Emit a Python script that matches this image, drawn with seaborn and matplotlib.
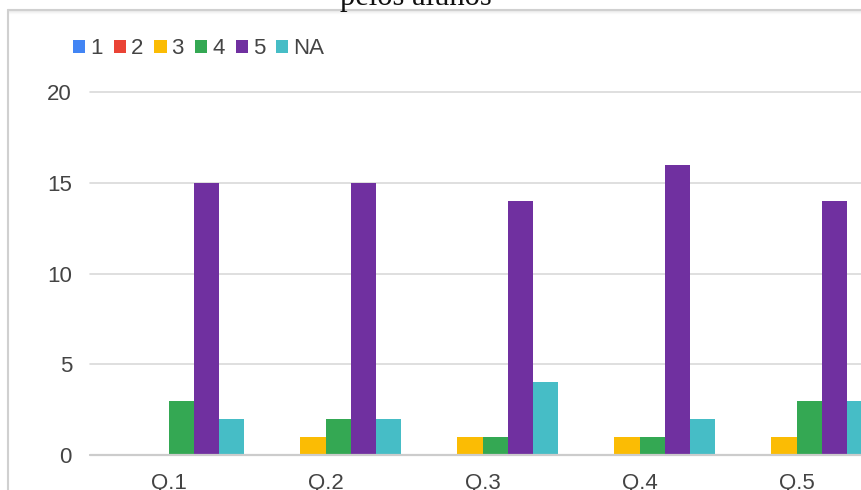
import matplotlib
matplotlib.use("Agg")
import matplotlib.pyplot as plt
from matplotlib.lines import Line2D
import seaborn as sns
import pandas as pd

# ---- data ----
questions = ["Q.1", "Q.2", "Q.3", "Q.4", "Q.5"]
series = ["1", "2", "3", "4", "5", "NA"]
s1 = [0, 0, 0, 0, 0]
s2 = [0, 0, 0, 0, 0]
s3 = [0, 1, 1, 1, 1]
s4 = [3, 2, 1, 1, 3]
s5 = [15, 15, 14, 16, 14]
sNA = [2, 2, 4, 2, 3]
yticks = [0, 5, 10, 15, 20]
title_text = "pelos alunos"

colors = ["#4285F4", "#EA4335", "#FBBC04", "#34A853", "#7030A0", "#46BDC6"]

values = {"1": s1, "2": s2, "3": s3, "4": s4, "5": s5, "NA": sNA}
rows = []
for s in series:
    for q, v in zip(questions, values[s]):
        rows.append({"q": q, "s": s, "v": v})
df = pd.DataFrame(rows)

sns.set_style("white")
plt.rcParams["font.family"] = ["Liberation Sans", "DejaVu Sans"]

W, H = 861, 490
fig = plt.figure(figsize=(W / 100, H / 100), dpi=100)
fig.patch.set_facecolor("white")

left_px, right_px = 90, 875
zero_px, top_px = 455, 92
ax = fig.add_axes([left_px / W, (H - zero_px) / H,
                   (right_px - left_px) / W, (zero_px - top_px) / H])

sns.barplot(data=df, x="q", y="v", hue="s", order=questions, hue_order=series,
            palette=colors, width=0.96, saturation=1, linewidth=0, ax=ax)

ax.set_xlim(-0.5, len(questions) - 0.5)
ax.set_ylim(0, 20)
ax.set_yticks(yticks)
ax.set_xlabel("")
ax.set_ylabel("")
for sp in ax.spines.values():
    sp.set_visible(False)
ax.set_axisbelow(True)
ax.yaxis.grid(True, color="#d9d9d9", linewidth=1.2)
for gl in ax.get_ygridlines():
    gl.set_clip_on(False)
ax.axhline(0, color="#cccccc", linewidth=1.6, zorder=3, clip_on=False)
ax.tick_params(axis="both", length=0, labelsize=16, labelcolor="#444444")
ax.tick_params(axis="y", pad=13)
ax.tick_params(axis="x", pad=13)

handles, labels = ax.get_legend_handles_labels()
if ax.legend_ is not None:
    ax.legend_.remove()
fig.legend(handles, labels, loc="center left",
           bbox_to_anchor=(62 / W, (H - 49) / H), ncol=6, frameon=False,
           fontsize=16, handlelength=0.55, handleheight=0.55,
           handletextpad=0.22, columnspacing=0.5, borderpad=0,
           labelcolor="#444444")

# chart frame (cropped)
frame_kw = dict(transform=fig.transFigure, color="#d0d0d0", linewidth=1.5)
fig.add_artist(Line2D([8 / W, 1], [(H - 10) / H, (H - 10) / H], **frame_kw))
fig.add_artist(Line2D([8 / W, 8 / W], [0, (H - 10) / H], **frame_kw))
for i, a in enumerate([0.35, 0.2, 0.1]):
    y = (H - 11.5 - i) / H
    fig.add_artist(Line2D([9 / W, 1], [y, y], transform=fig.transFigure,
                          color="#d0d0d0", alpha=a, linewidth=0.8))

# title, cut off at top
fig.text(416 / W, (H - 5) / H, title_text, ha="center", va="baseline",
         fontsize=22, family=["Liberation Serif", "DejaVu Serif"],
         color="#111111")

fig.savefig("out.png", dpi=100, facecolor="white")
